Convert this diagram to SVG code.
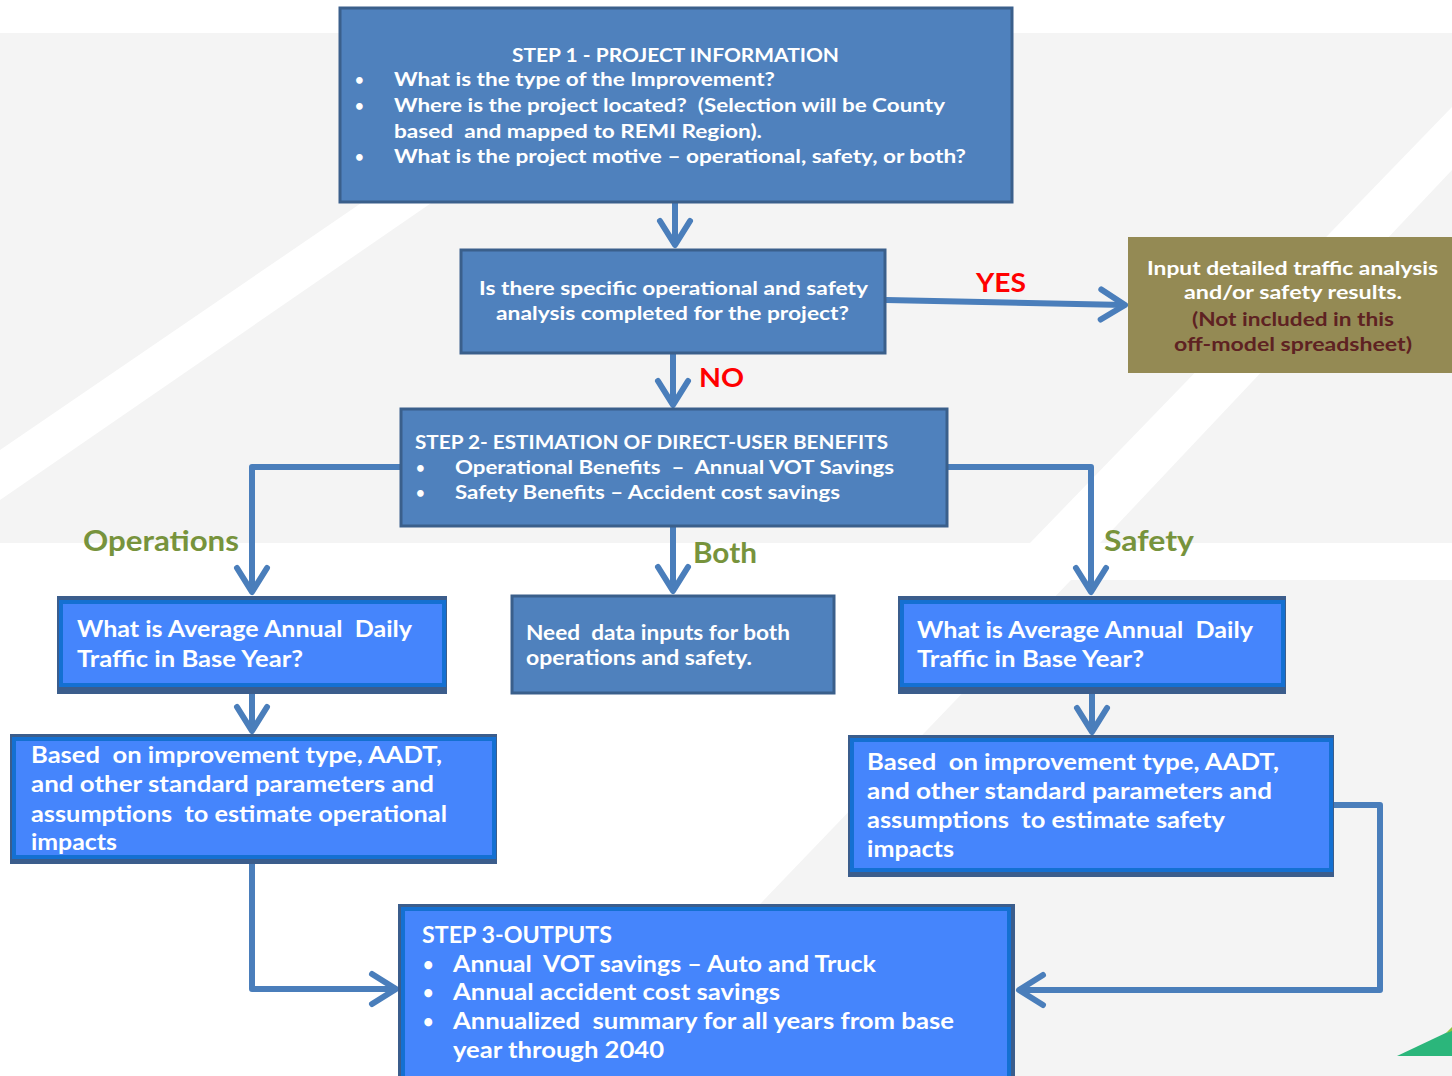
<svg xmlns="http://www.w3.org/2000/svg" width="1452" height="1076" viewBox="0 0 1452 1076">
<defs>
<style>
.bg{fill:#f4f4f4}
.box{fill:#4f81bd;stroke:#3a5f8b;stroke-width:3}
.frame{fill:#3b5d8c}
.bright{fill:#4585fc;stroke:#1470d2;stroke-width:4}
.olive{fill:#948a54}
.t{font-family:Lato,"Open Sans","Liberation Sans",sans-serif;font-weight:700;fill:#ffffff;white-space:pre}
.b{font-size:15px}
.dr{fill:#5e2222}
.red{font-family:Lato,"Open Sans","Liberation Sans",sans-serif;font-weight:700;fill:#ff0000;font-size:26px}
.grn{font-family:Lato,"Open Sans","Liberation Sans",sans-serif;font-weight:700;fill:#77933c;font-size:28px}
.con{fill:none;stroke:#4a7ebb;stroke-width:6;stroke-linejoin:round}
</style>
<marker id="ah" markerUnits="userSpaceOnUse" markerWidth="60" markerHeight="60" viewBox="-30 -30 60 60" refX="0" refY="0" orient="auto" overflow="visible">
<path d="M-24,-15 L0,0 L-24,15" fill="none" stroke="#4a7ebb" stroke-width="6" stroke-linecap="round" stroke-linejoin="round"/>
</marker>
</defs>

<g id="background">
<rect x="0" y="0" width="1452" height="1076" fill="#ffffff"/>
<rect class="bg" x="0" y="33" width="1452" height="510"/>
<polygon fill="#ffffff" points="610,33 678,33 0,500 0,450"/>
<polygon fill="#ffffff" points="1452,107 1452,170 1100,543 1030,543"/>
<polygon class="bg" points="1071,580 1452,580 1452,1076 595,1076"/>
<polygon fill="#2bb67b" points="1397,1056 1452,1030 1452,1056"/>
<polygon fill="#8dc63f" points="1446,1033 1452,1027 1452,1031"/>
</g>

<g id="connectors">
<path class="con" d="M675,203 L675,245" marker-end="url(#ah)"/>
<path class="con" d="M673,354 L673,405" marker-end="url(#ah)"/>
<path class="con" d="M886,300 L1125,305" marker-end="url(#ah)"/>
<path class="con" d="M401,467 L252,467 L252,592" marker-end="url(#ah)"/>
<path class="con" d="M947,467 L1091,467 L1091,592" marker-end="url(#ah)"/>
<path class="con" d="M673,527 L673,591" marker-end="url(#ah)"/>
<path class="con" d="M252,694 L252,731" marker-end="url(#ah)"/>
<path class="con" d="M1092,694 L1092,732" marker-end="url(#ah)"/>
<path class="con" d="M252,864 L252,989 L396,989" marker-end="url(#ah)"/>
<path class="con" d="M1334,805 L1380,805 L1380,990 L1019,990" marker-end="url(#ah)"/>
<text class="red" x="976" y="292" textLength="50" lengthAdjust="spacingAndGlyphs">YES</text>
<text class="red" x="699" y="387" textLength="45" lengthAdjust="spacingAndGlyphs">NO</text>
<text class="grn" x="83" y="551" textLength="156" lengthAdjust="spacingAndGlyphs">Operations</text>
<text class="grn" x="693" y="563" textLength="64" lengthAdjust="spacingAndGlyphs">Both</text>
<text class="grn" x="1104" y="551" textLength="90" lengthAdjust="spacingAndGlyphs">Safety</text>
</g>

<g id="step1">
<rect class="box" x="340" y="8" width="672" height="194"/>
<text class="t" font-size="19" x="512" y="62" textLength="327" lengthAdjust="spacingAndGlyphs">STEP 1 - PROJECT INFORMATION</text>
<text class="t b" x="355" y="85">•</text>
<text class="t" font-size="18" x="394" y="86" textLength="381" lengthAdjust="spacingAndGlyphs">What is the type of the Improvement?</text>
<text class="t b" x="355" y="111">•</text>
<text class="t" font-size="18" x="394" y="112" textLength="551" lengthAdjust="spacingAndGlyphs">Where is the project located?  (Selection will be County</text>
<text class="t" font-size="18" x="394" y="138" textLength="368" lengthAdjust="spacingAndGlyphs">based  and mapped to REMI Region).</text>
<text class="t b" x="355" y="162">•</text>
<text class="t" font-size="18" x="394" y="163" textLength="572" lengthAdjust="spacingAndGlyphs">What is the project motive – operational, safety, or both?</text>
</g>

<g id="decision">
<rect class="box" x="461" y="250" width="424" height="103"/>
<text class="t" font-size="19" x="479" y="295" textLength="389" lengthAdjust="spacingAndGlyphs">Is there specific operational and safety</text>
<text class="t" font-size="19" x="496" y="320" textLength="353" lengthAdjust="spacingAndGlyphs">analysis completed for the project?</text>
</g>

<g id="external">
<rect class="olive" x="1128" y="237" width="330" height="136"/>
<text class="t" font-size="19" x="1147" y="275" textLength="291" lengthAdjust="spacingAndGlyphs">Input detailed traffic analysis</text>
<text class="t" font-size="19" x="1184" y="299" textLength="218" lengthAdjust="spacingAndGlyphs">and/or safety results.</text>
<text class="t dr" font-size="19" x="1192" y="326" textLength="202" lengthAdjust="spacingAndGlyphs">(Not included in this</text>
<text class="t dr" font-size="19" x="1174" y="351" textLength="238" lengthAdjust="spacingAndGlyphs">off-model spreadsheet)</text>
</g>

<g id="step2">
<rect class="box" x="401" y="409" width="546" height="117"/>
<text class="t" font-size="19" x="415" y="449" textLength="473" lengthAdjust="spacingAndGlyphs">STEP 2- ESTIMATION OF DIRECT-USER BENEFITS</text>
<text class="t b" x="416" y="473">•</text>
<text class="t" font-size="19" x="455" y="474" textLength="439" lengthAdjust="spacingAndGlyphs">Operational Benefits  –  Annual VOT Savings</text>
<text class="t b" x="416" y="498">•</text>
<text class="t" font-size="19" x="455" y="499" textLength="385" lengthAdjust="spacingAndGlyphs">Safety Benefits – Accident cost savings</text>
</g>

<g id="aadt-left">
<rect class="frame" x="57" y="596" width="390" height="98"/>
<rect class="bright" x="61" y="602" width="383" height="83"/>
<text class="t" font-size="23" x="77" y="637" textLength="335" lengthAdjust="spacingAndGlyphs">What is Average Annual  Daily</text>
<text class="t" font-size="23" x="77" y="667" textLength="226" lengthAdjust="spacingAndGlyphs">Traffic in Base Year?</text>
</g>

<g id="both">
<rect class="box" x="512" y="596" width="322" height="97"/>
<text class="t" font-size="20" x="526" y="640" textLength="264" lengthAdjust="spacingAndGlyphs">Need  data inputs for both</text>
<text class="t" font-size="20" x="526" y="665" textLength="226" lengthAdjust="spacingAndGlyphs">operations and safety.</text>
</g>

<g id="aadt-right">
<rect class="frame" x="898" y="596" width="388" height="98"/>
<rect class="bright" x="902" y="602" width="381" height="83"/>
<text class="t" font-size="23" x="917" y="638" textLength="336" lengthAdjust="spacingAndGlyphs">What is Average Annual  Daily</text>
<text class="t" font-size="23" x="917" y="667" textLength="227" lengthAdjust="spacingAndGlyphs">Traffic in Base Year?</text>
</g>

<g id="ops-estimate">
<rect class="frame" x="10" y="734" width="487" height="130"/>
<rect class="bright" x="14" y="739" width="480" height="118"/>
<text class="t" font-size="22" x="31" y="763" textLength="411" lengthAdjust="spacingAndGlyphs">Based  on improvement type, AADT,</text>
<text class="t" font-size="22" x="31" y="792" textLength="403" lengthAdjust="spacingAndGlyphs">and other standard parameters and</text>
<text class="t" font-size="22" x="31" y="822" textLength="416" lengthAdjust="spacingAndGlyphs">assumptions  to estimate operational</text>
<text class="t" font-size="22" x="31" y="850" textLength="86" lengthAdjust="spacingAndGlyphs">impacts</text>
</g>

<g id="safety-estimate">
<rect class="frame" x="848" y="735" width="486" height="142"/>
<rect class="bright" x="852" y="740" width="479" height="130"/>
<text class="t" font-size="22" x="867" y="770" textLength="412" lengthAdjust="spacingAndGlyphs">Based  on improvement type, AADT,</text>
<text class="t" font-size="22" x="867" y="799" textLength="405" lengthAdjust="spacingAndGlyphs">and other standard parameters and</text>
<text class="t" font-size="22" x="867" y="828" textLength="358" lengthAdjust="spacingAndGlyphs">assumptions  to estimate safety</text>
<text class="t" font-size="22" x="867" y="857" textLength="87" lengthAdjust="spacingAndGlyphs">impacts</text>
</g>

<g id="step3">
<rect class="frame" x="398" y="904" width="617" height="180"/>
<rect class="bright" x="403" y="909" width="606" height="180"/>
<text class="t" font-size="23" x="422" y="943" textLength="190" lengthAdjust="spacingAndGlyphs">STEP 3-OUTPUTS</text>
<text class="t" font-size="18" x="423" y="971">•</text>
<text class="t" font-size="23" x="453" y="972" textLength="423" lengthAdjust="spacingAndGlyphs">Annual  VOT savings – Auto and Truck</text>
<text class="t" font-size="18" x="423" y="999">•</text>
<text class="t" font-size="23" x="453" y="1000" textLength="327" lengthAdjust="spacingAndGlyphs">Annual accident cost savings</text>
<text class="t" font-size="18" x="423" y="1028">•</text>
<text class="t" font-size="23" x="453" y="1029" textLength="501" lengthAdjust="spacingAndGlyphs">Annualized  summary for all years from base</text>
<text class="t" font-size="23" x="453" y="1058" textLength="211" lengthAdjust="spacingAndGlyphs">year through 2040</text>
</g>
</svg>
